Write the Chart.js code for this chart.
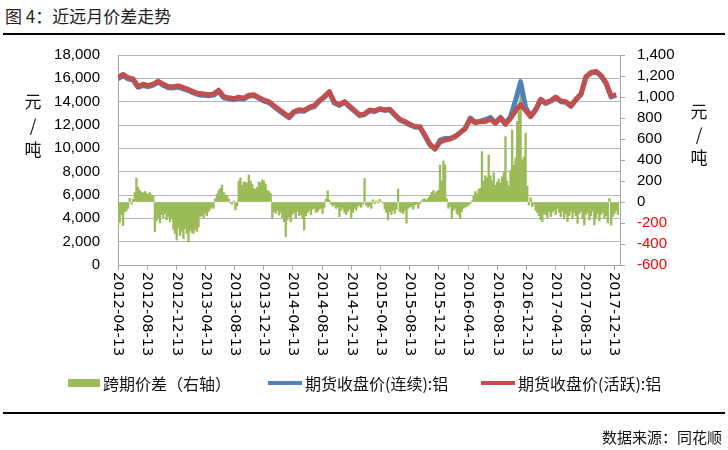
<!DOCTYPE html>
<html>
<head>
<meta charset="utf-8">
<script src="https://cdn.jsdelivr.net/npm/chart.js@4.4.0/dist/chart.umd.min.js"></script>
<style>
body { margin: 0; width: 728px; height: 450px; background: #fff; position: relative; overflow: hidden;
       font-family: "Noto Sans CJK SC", sans-serif; color: #111; }
#chart { position: absolute; left: 0; top: 0; }
.t { position: absolute; white-space: nowrap; line-height: 1; }
.rule { position: absolute; left: 3px; width: 722px; height: 2px; background: #000; }
.unit { position: absolute; font-size: 17px; line-height: 1; transform: translate(-50%, -50%); }
</style>
</head>
<body>
<div class="t" style="left:5px;top:7px;font-size:17px;color:#222">图 4：近远月价差走势</div>
<div class="rule" style="top:33px"></div>

<canvas id="chart" width="728" height="450"></canvas>

<div class="unit" style="left:33px;top:100px">元</div>
<div class="unit" style="left:33px;top:124px">/</div>
<div class="unit" style="left:33px;top:148px">吨</div>
<div class="unit" style="left:699px;top:110px">元</div>
<div class="unit" style="left:699px;top:133px">/</div>
<div class="unit" style="left:699px;top:156px">吨</div>

<div style="position:absolute;left:68px;top:379px;width:32px;height:8px;background:#9BBB59"></div>
<div class="t" style="left:103px;top:375px;font-size:16px">跨期价差（右轴）</div>
<div style="position:absolute;left:268px;top:381px;width:34px;height:4px;background:#4F81BD"></div>
<div class="t" style="left:305px;top:375px;font-size:16px">期货收盘价(连续):铝</div>
<div style="position:absolute;left:481px;top:381px;width:34px;height:4px;background:#C0504D"></div>
<div class="t" style="left:518px;top:375px;font-size:16px">期货收盘价(活跃):铝</div>

<div class="rule" style="top:412px"></div>
<div class="t" style="right:6px;top:429px;font-size:15px">数据来源：同花顺</div>

<script>
// x axis: days counted from the first date
const startDate = '2012-04-13';
const priceStep = 21;   // days between price samples
const spreadStep = 7;   // days between spread samples

const tickLabels = ['2012-04-13', '2012-08-13', '2012-12-13', '2013-04-13', '2013-08-13', '2013-12-13',
    '2014-04-13', '2014-08-13', '2014-12-13', '2015-04-13', '2015-08-13', '2015-12-13',
    '2016-04-13', '2016-08-13', '2016-12-13', '2017-04-13', '2017-08-13', '2017-12-13'];

// 期货收盘价(活跃):铝, left axis
const activeClose = [
    16050, 16350, 16050, 15940, 15300, 15490, 15370, 15500, 15750, 15480,
    15300, 15280, 15350, 15200, 15050, 14850, 14700, 14650, 14600, 14650,
    14980, 14430, 14330, 14250, 14380, 14300, 14550, 14600, 14350, 14130,
    14000, 13650, 13330, 13000, 12700, 13150, 13300, 13250, 13520, 13650,
    14100, 14430, 14850, 13950, 13750, 14000, 13620, 13250, 12860, 12950,
    13290, 13200, 13400, 13300, 13350, 12900, 12480, 12300, 12050, 11880,
    11850, 11100, 10330, 9950, 10550, 10710, 10800, 11000, 11350, 11700,
    12500, 12200, 12290, 12300, 12500, 12150, 12600, 12050, 12570, 13200,
    13750, 13250, 12710, 13300, 14200, 13900, 14100, 14400, 14050, 14000,
    13650, 14200, 14650, 16150, 16500, 16600, 16250, 15600, 14500, 14600
];

// 期货收盘价(连续):铝, left axis
const contClose = [
    15950, 16250, 15950, 15850, 15230, 15400, 15280, 15420, 15670, 15400,
    15200, 15180, 15250, 15100, 14950, 14750, 14600, 14550, 14510, 14560,
    14880, 14330, 14250, 14170, 14300, 14230, 14470, 14520, 14280, 14050,
    13920, 13570, 13250, 12920, 12620, 13070, 13230, 13180, 13450, 13580,
    14030, 14370, 14800, 13880, 13680, 13950, 13560, 13180, 12800, 12900,
    13230, 13150, 13350, 13250, 13300, 12850, 12420, 12250, 12000, 11830,
    11800, 11060, 10300, 9930, 10700, 10850, 10850, 11020, 11350, 11700,
    12600, 12250, 12330, 12450, 12650, 12200, 12650, 12150, 12700, 14100,
    15700, 13500, 12750, 13300, 14150, 13850, 14050, 14350, 14000, 13950,
    13600, 14150, 14600, 16100, 16450, 16550, 16200, 15550, 14400, 14550
];

// 跨期价差（右轴）, weekly
const spread = [
    -230, -195, -120, -225, -95, -85, -60, 35, -20, 25,
    90, 228, 140, 110, 95, 85, 100, 80, 75, 90,
    70, 55, -283, -180, -150, -200, -120, -150, -110, -170,
    -140, -190, -160, -260, -300, -362, -250, -320, -280, -350,
    -250, -300, -381, -270, -290, -300, -260, -280, -240, -140,
    -130, -150, -110, -130, -90, -70, -50, -60, 30, 75,
    110, 130, 162, 90, 70, 60, 30, -10, -20, 10,
    -76, -40, 200, 230, 160, 190, 190, 180, 257, 200,
    170, 130, 120, 140, 190, 180, 210, 200, 170, 110,
    100, 80, -155, -90, -110, -80, -125, -100, -150, -187,
    -330, -170, -140, -190, -120, -100, -150, -90, -130, -120,
    -155, -267, -130, -100, -80, -120, -70, -60, -100, -90,
    -70, -60, -110, -50, 30, 105, 20, -20, -40, -30,
    -60, -50, -140, -80, -60, -100, -120, -90, -70, -150,
    -100, -60, -80, -40, -30, -50, -20, 225, -30, -50,
    -40, -60, 20, -15, 10, -10, 25, 5, -10, -70,
    -100, -170, -90, -120, -80, -110, -70, 124, -90, -100,
    -110, -80, -203, -60, -50, -40, -70, -30, -20, -60,
    -15, 10, 25, 30, 20, 35, 60, 90, 110, 80,
    100, 110, 352, 200, 390, 352, 30, -60, -40, -155,
    -80, -60, -110, -125, -155, -90, -60, -50, -40, -30,
    -20, 10, 60, 100, 80, 120, 130, 480, 200, 250,
    230, 448, 250, 200, 280, 160, 190, 220, 180, 240,
    280, 622, 200, 150, 300, 686, 350, 420, 765, 860,
    1178, 400, 430, 654, 150, -30, 40, -45, -20, -80,
    -100, -130, -170, -187, -110, -120, -150, -90, -140, -100,
    -80, -120, -60, -100, -140, -90, -160, -110, -187, -130,
    -90, -160, -100, -130, -203, -110, -90, -150, -219, -120,
    -100, -170, -130, -90, -219, -150, -110, -180, -120, -100,
    -160, -130, -200, 35, -221, -140, -110, -80, -120
];

const dayOf = (s) => {
    const [y, m, d] = s.split('-').map(Number);
    const [y0, m0, d0] = startDate.split('-').map(Number);
    return (Date.UTC(y, m - 1, d) - Date.UTC(y0, m0 - 1, d0)) / 86400000;
};

const axisGray = '#a6a6a6';
const numFmt = (v) => v.toLocaleString('en-US');

// dates drawn rotated clockwise, reading downward
const dateLabels = {
    id: 'dateLabels',
    afterDraw(chart) {
        const xs = chart.scales.x;
        const ctx = chart.ctx;
        ctx.save();
        ctx.font = '14.5px "DejaVu Sans"';
        ctx.fillStyle = '#000';
        ctx.textAlign = 'left';
        ctx.textBaseline = 'middle';
        tickLabels.forEach((lbl) => {
            const px = xs.getPixelForValue(dayOf(lbl));
            ctx.save();
            ctx.translate(px, xs.top + 7);
            ctx.rotate(Math.PI / 2);
            ctx.fillText(lbl, 0, 0);
            ctx.restore();
        });
        ctx.restore();
    }
};

new Chart(document.getElementById('chart'), {
    type: 'bar',
    data: {
        datasets: [
            {
                type: 'line',
                label: '期货收盘价(活跃):铝',
                data: activeClose.map((v, i) => ({ x: i * priceStep, y: v })),
                borderColor: '#C0504D',
                borderWidth: 5,
                pointRadius: 0,
                tension: 0,
                borderJoinStyle: 'round',
                yAxisID: 'y',
                order: 1
            },
            {
                type: 'line',
                label: '期货收盘价(连续):铝',
                data: contClose.map((v, i) => ({ x: i * priceStep, y: v })),
                borderColor: '#4F81BD',
                borderWidth: 5,
                pointRadius: 0,
                tension: 0,
                borderJoinStyle: 'round',
                yAxisID: 'y',
                order: 2
            },
            {
                type: 'bar',
                label: '跨期价差（右轴）',
                data: spread.map((v, j) => ({ x: j * spreadStep, y: v })),
                backgroundColor: '#9BBB59',
                barPercentage: 1,
                categoryPercentage: 1,
                yAxisID: 'y1',
                order: 3
            }
        ]
    },
    options: {
        responsive: false,
        animation: false,
        devicePixelRatio: 1,
        layout: { padding: { top: 55, left: 0, right: 0, bottom: 0 } },
        plugins: { legend: { display: false }, tooltip: { enabled: false } },
        scales: {
            x: {
                type: 'linear',
                min: 0,
                max: 2095,
                offset: false,
                grid: { drawOnChartArea: false, drawTicks: true, tickLength: 5, color: axisGray, offset: false },
                border: { color: axisGray },
                ticks: { display: false },
                afterBuildTicks: (s) => { s.ticks = tickLabels.map((l) => ({ value: dayOf(l) })); },
                afterFit: (s) => { s.height = 185; }
            },
            y: {
                position: 'left',
                min: 0,
                max: 18000,
                ticks: { stepSize: 2000, padding: 18, color: '#000',
                         font: { size: 15, family: '"Liberation Sans", Arial' }, callback: numFmt },
                grid: { color: '#b4b4b4', drawTicks: false },
                border: { color: axisGray },
                afterFit: (s) => { s.width = 118; }
            },
            y1: {
                position: 'right',
                min: -600,
                max: 1400,
                ticks: { stepSize: 200, padding: 12,
                         color: (c) => (c.tick && c.tick.value < 0 ? '#ff0000' : '#000'),
                         font: { size: 15, family: '"Liberation Sans", Arial' }, callback: numFmt },
                grid: { drawOnChartArea: false, tickLength: 5, color: axisGray },
                border: { color: axisGray },
                afterFit: (s) => { s.width = 108; }
            }
        }
    },
    plugins: [dateLabels]
});
</script>
</body>
</html>
